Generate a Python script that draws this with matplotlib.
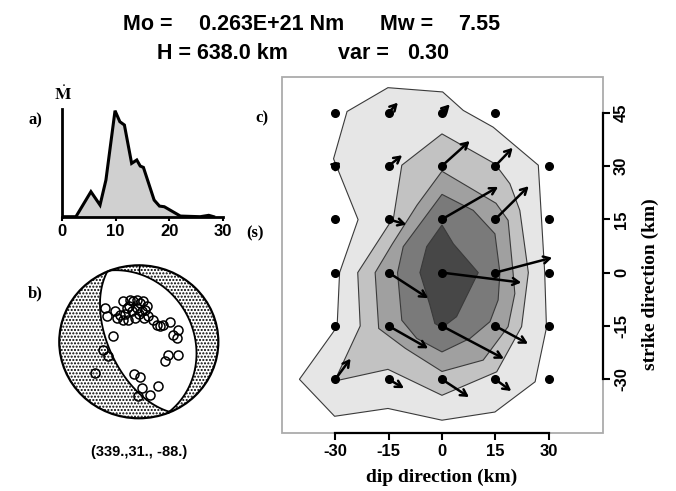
import matplotlib
matplotlib.use("Agg")
import matplotlib.pyplot as plt
import numpy as np
from matplotlib.patches import Circle, Polygon, Rectangle

W, H = 676, 491
SANS = "Liberation Sans"
SERIF = "Liberation Serif"

# ---- title pieces (text, left x px, baseline y px) ----
title_parts = [("Mo =", 123, 30.5), ("0.263E+21 Nm", 199, 30.5),
               ("Mw =", 380, 30.5), ("7.55", 458, 30.5),
               ("H = 638.0 km", 157, 58.5), ("var =", 338, 58.5),
               ("0.30", 407, 58.5)]

# ---- panel a: moment rate function ----
mr_t = [0, 2.6, 5.4, 7.1, 8.2, 9.9, 10.8, 11.65, 13.0, 13.96, 14.6, 15.2,
        17.2, 18.2, 19.1, 22.1, 25.8, 27.4, 28.3]
mr_a = [0, 0, 0.236, 0.11, 0.346, 1.0, 0.896, 0.865, 0.503, 0.535, 0.478,
        0.465, 0.157, 0.10, 0.094, 0.006, 0, 0.013, 0]
time_ticks = [0, 10, 20, 30]

# ---- panel b: focal mechanism + stations ----
strike, dip, rake = 339., 31., -88.
sta_u = [-0.425, -0.404, -0.299, -0.236, -0.195, -0.152, -0.111, -0.069, -0.026,
         0.015, 0.057, -0.089, -0.026, 0.036, 0.099, -0.132, -0.048, -0.195,
         -0.278, 0.120, 0.182, 0.225, 0.267, 0.308, 0.392, 0.497, 0.434, 0.477,
         -0.321, -0.447, -0.384, 0.330, 0.371, 0.489, -0.551, -0.057, 0.015,
         0.044, 0.245, 0.141, -0.006, -0.17, 0.0, 0.08, -0.12, 0.06]
sta_v = [0.442, 0.333, 0.399, 0.354, 0.529, 0.442, 0.550, 0.529, 0.550,
         0.507, 0.537, 0.399, 0.442, 0.399, 0.464, 0.289, 0.311, 0.289,
         0.311, 0.333, 0.289, 0.224, 0.203, 0.224, 0.259, 0.158, 0.093, 0.050,
         0.072, -0.103, -0.190, -0.255, -0.169, -0.176, -0.408, -0.421, -0.464,
         -0.604, -0.582, -0.691, -0.712, 0.36, 0.36, 0.42, 0.47, 0.31]

# ---- panel c: slip distribution ----
pt_x = [-30, -15, 0, 15,
        -30, -15, 0, 15, 30,
        -30, -15, 0, 15, 30,
        -30, -15, 0, 15, 30,
        -30, -15, 0, 15, 30,
        -30, -15, 0, 15, 30]
pt_y = [45, 45, 45, 45,
        30, 30, 30, 30, 30,
        15, 15, 15, 15, 15,
        0, 0, 0, 0, 0,
        -15, -15, -15, -15, -15,
        -30, -30, -30, -30, -30]
vec_x = [0, 2.6, 2.2, 0,
         1.5, 3.8, 7.8, 4.9, 0,
         0, 5.0, 15.8, 9.4, 0,
         0, 11.1, 22.3, 16.0, 0,
         0, 11.1, 17.4, 9.2, 0,
         4.3, 4.3, 7.6, 4.5, 0]
vec_y = [0, 2.8, 2.3, 0,
         1.0, 3.0, 7.0, 5.1, 0,
         0, -1.5, 9.1, 9.3, 0,
         0, -7.2, -2.8, 4.2, 0,
         0, -6.3, -9.2, -5.0, 0,
         5.8, -2.5, -5.0, -3.3, 0]

lev1_x = [-15.2, 0.2, 6.0, 14.4, 27.1, 28.9, 29.4, 26.2, 14.9, 0.0, -15.2, -30.2,
          -40.1, -29.5, -28.8, -23.6, -30.5, -26.7]
lev1_y = [52.0, 50.8, 45.6, 40.9, 30.2, 0.0, -15.5, -30.7, -39.2, -41.5, -38.2,
          -40.4, -30.0, -15.2, 0.0, 14.9, 32.0, 45.3]
lev2_x = [0, 14.9, 19.1, 21.9, 24.3, 22.4, 15.4, 0, -15.2, -30.2, -23.0, -23.7,
          -13.6, -11.3]
lev2_y = [39.0, 30.6, 25.0, 17.5, 0, -15.2, -27.9, -34.5, -27.2, -30.5, -15.0, 0,
          15.6, 30.2]
lev3_x = [0, 15.2, 18.6, 20.0, 20.5, 18.6, 11.6, 0, -10.3, -17.8, -18.8, -14, -7]
lev3_y = [28.5, 19.5, 14.7, 0, -5.9, -15.2, -24.6, -27.8, -21.3, -15.7, 0, 8, 19]
lev4_x = [0, 8.8, 14.9, 16.3, 15.8, 13.5, 7.9, 0, -7.1, -11.3, -12.5, -10.9]
lev4_y = [22.0, 17.5, 10.9, 0, -7.7, -13.8, -18.5, -22.3, -18.5, -13.4, 0, 7.3]
lev5_x = [0, 3.2, 10.2, 4.1, 0, -2.0, -3.4, -6.2, -4.3]
lev5_y = [13.4, 8.1, 0, -12.4, -15.5, -14.3, -9.1, 0, 7.3]
lev_colors = ["#e6e6e6", "#c2c2c2", "#a0a0a0", "#7a7a7a", "#474747"]
km_ticks = [-30, -15, 0, 15, 30]
strike_ticks = [-30, -15, 0, 15, 30, 45]

fig = plt.figure(figsize=(W / 100, H / 100), dpi=100)


def fax(x0, y0, x1, y1):
    # pixel box (top-left origin) -> figure axes
    return fig.add_axes([x0 / W, 1 - y1 / H, (x1 - x0) / W, (y1 - y0) / H])


# title
for txt, x, y in title_parts:
    fig.text(x / W, 1 - y / H, txt, family=SANS, weight="bold", fontsize=15.5,
             va="baseline", ha="left")

# ---------------- panel a ----------------
axa = fax(62, 109, 222.7, 216.7)
axa.fill_between(mr_t, mr_a, color="#d0d0d0", lw=0)
axa.plot(mr_t, mr_a, color="k", lw=2.2, solid_joinstyle="miter")
axa.set_xlim(0, 30)
axa.set_ylim(0, 1.016)
for s in ["top", "right"]:
    axa.spines[s].set_visible(False)
axa.spines["left"].set_linewidth(2)
axa.spines["bottom"].set_linewidth(2)
axa.set_yticks([])
axa.set_xticks(time_ticks)
axa.set_xticklabels([str(t) for t in time_ticks], family=SANS,
                    weight="bold", fontsize=12)
axa.tick_params(axis="x", length=3, width=1.5, pad=2)
fig.text(63 / W, 1 - 95 / H, r"$\dot{\mathbf{M}}$", fontsize=12.5,
         ha="center", va="center", math_fontfamily="stix")
fig.text(35 / W, 1 - 120 / H, "a)", family=SERIF, weight="bold", fontsize=12,
         ha="center", va="center")
fig.text(255 / W, 1 - 233 / H, "(s)", family=SERIF, weight="bold", fontsize=12,
         ha="center", va="center")

# ---------------- panel b ----------------


def great_circle(s, d):
    t = np.radians(np.linspace(0, 180, 181))
    sr, dr = np.radians(s), np.radians(d)
    pl = np.arcsin(np.sin(dr) * np.sin(t))
    tr = sr + np.arctan2(np.cos(dr) * np.sin(t), np.cos(t))
    r = np.sqrt(2) * np.sin((np.pi / 2 - pl) / 2)
    return r * np.sin(tr), r * np.cos(tr)


sr, dr, rr = np.radians([strike, dip, rake])
ux = np.cos(rr) * np.cos(sr) + np.cos(dr) * np.sin(rr) * np.sin(sr)
uy = np.cos(rr) * np.sin(sr) - np.cos(dr) * np.sin(rr) * np.cos(sr)
uz = -np.sin(rr) * np.sin(dr)
if uz > 0:
    ux, uy, uz = -ux, -uy, -uz
dip2 = np.degrees(np.arccos(-uz))
strike2 = np.degrees(np.arctan2(-ux, uy)) % 360

axb = fax(138.8 - 83.5, 341.8 - 80.3, 138.8 + 83.5, 341.8 + 80.3)
axb.set_xlim(-1.05, 1.05)
axb.set_ylim(-1.05, 1.05)
axb.axis("off")
axb.add_patch(Circle((0, 0), 1, facecolor="white", edgecolor="k",
                     hatch=".....", lw=0))
ax1, ay1 = great_circle(strike, dip)
ax2, ay2 = great_circle(strike2, dip2)
lens = np.column_stack([np.concatenate([ax1, ax2]), np.concatenate([ay1, ay2])])
axb.add_patch(Polygon(lens, closed=True, facecolor="white", edgecolor="k", lw=1.3))
axb.add_patch(Circle((0, 0), 1, facecolor="none", edgecolor="k", lw=1.6))
axb.plot([0, 0], [1, 0.9], color="k", lw=1)
axb.plot(sta_u, sta_v, "o", ms=6.5, mfc="none", mec="k", mew=1.1)
fig.text(35 / W, 1 - 293 / H, "b)", family=SERIF, weight="bold", fontsize=12,
         ha="center", va="center")
fig.text(139 / W, 1 - 452 / H, "(339.,31., -88.)", family=SANS, weight="bold",
         fontsize=10.5, ha="center", va="center")

# ---------------- panel c ----------------
axc = fax(282, 77, 603, 433)
axc.set_xlim(-45.0, 45.3)
axc.set_ylim(-45.1, 55.0)
levels = [(lev1_x, lev1_y), (lev2_x, lev2_y), (lev3_x, lev3_y),
          (lev4_x, lev4_y), (lev5_x, lev5_y)]
for (lx, ly), col in zip(levels, lev_colors):
    axc.fill(lx, ly, facecolor=col, edgecolor="#3a3a3a", lw=0.8)
axc.plot(pt_x, pt_y, "o", ms=5.5, color="k", zorder=3)
for x, y, dx, dy in zip(pt_x, pt_y, vec_x, vec_y):
    if np.hypot(dx, dy) > 1:
        axc.annotate("", xy=(x + dx, y + dy), xytext=(x, y), zorder=4,
                     arrowprops=dict(arrowstyle="->,head_length=0.45,head_width=0.25",
                                     lw=1.8, color="k", shrinkA=0, shrinkB=0))
axc.add_patch(Rectangle((0, 0), 1, 1, transform=axc.transAxes, fill=False,
                        edgecolor="#ababab", lw=1.3, clip_on=False, zorder=5))
for s in ["top", "left"]:
    axc.spines[s].set_visible(False)
axc.spines["bottom"].set_bounds(-30, 30)
axc.spines["right"].set_bounds(-30, 45)
for s in ["bottom", "right"]:
    axc.spines[s].set_linewidth(1.6)
    axc.spines[s].set_zorder(6)
axc.yaxis.tick_right()
axc.set_xticks(km_ticks)
axc.set_xticklabels([str(t) for t in km_ticks], family=SANS, weight="bold",
                    fontsize=12)
axc.set_yticks(strike_ticks)
axc.set_yticklabels([str(t) for t in strike_ticks], family=SANS, weight="bold",
                    fontsize=12, rotation=90, va="center")
axc.tick_params(length=5, width=1.5, pad=3)
fig.text(262 / W, 1 - 118 / H, "c)", family=SERIF, weight="bold", fontsize=12,
         ha="center", va="center")
fig.text(441.7 / W, 1 - 477 / H, "dip direction (km)", family=SERIF,
         weight="bold", fontsize=14, ha="center", va="center")
fig.text(650 / W, 1 - 284 / H, "strike direction (km)", family=SERIF,
         weight="bold", fontsize=14, ha="center", va="center", rotation=90)

fig.savefig("out.png", dpi=100)
